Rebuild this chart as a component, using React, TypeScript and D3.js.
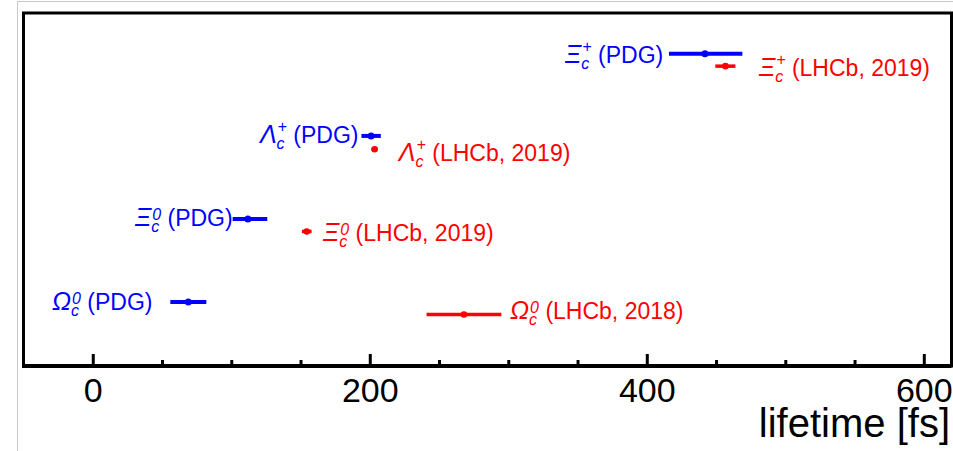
import { useEffect, useRef } from 'react';
import * as d3 from 'd3';

// charm baryon lifetimes, PDG average vs LHCb measurement
const particles = ['Ξ', 'Λ', 'Ξ', 'Ω'];
const charges = ['+', '+', '0', '0'];

const pdgValue = [442, 201, 112, 69];
const pdgLow = [416, 194, 101, 56];
const pdgHigh = [469, 208, 126, 82];
const pdgRow = [3.76, 2.77, 1.77, 0.77];
const pdgLabelX = [341, 120.7, 30.5, -29.4];
const pdgLabelY = [3.65, 2.68, 1.69, 0.67];

const lhcbValue = [456.8, 203.5, 154.5, 268];
const lhcbLow = [449.5, 201.3, 151, 241];
const lhcbHigh = [464, 205.7, 158, 295];
const lhcbRow = [3.61, 2.61, 1.62, 0.62];
const lhcbYear = ['2019', '2019', '2019', '2018'];
const lhcbLabelX = [481, 221, 166.3, 301.3];
const lhcbLabelY = [3.49, 2.47, 1.5, 0.57];

const majorTicks = [0, 200, 400, 600];
const minorTicks = [50, 100, 150, 250, 300, 350, 450, 500, 550];

const FONT = '"Liberation Sans", Arial, Helvetica, sans-serif';

export default function App() {
  const svgRef = useRef<SVGSVGElement>(null);

  useEffect(() => {
    if (!svgRef.current) return;
    const svg = d3.select(svgRef.current);
    svg.selectAll('*').remove();

    const left = 23.5;
    const right = 951.5;
    const top = 13;
    const bottom = 366;

    const x = d3.scaleLinear().domain([-50, 620]).range([left, right]);
    const y = d3.scaleLinear().domain([0, 4.25]).range([bottom, top]);

    // thin grey outer border
    svg
      .append('rect')
      .attr('x', 17.5)
      .attr('y', 1.5)
      .attr('width', 960)
      .attr('height', 460)
      .attr('fill', 'none')
      .attr('stroke', '#c8c8c8')
      .attr('stroke-width', 1);

    // major ticks + labels
    const axisMajor = svg
      .append('g')
      .attr('transform', `translate(0, ${bottom})`)
      .call(
        d3
          .axisBottom(x)
          .tickValues(majorTicks)
          .tickSize(-12)
          .tickPadding(12)
          .tickFormat((d) => `${d}`),
      );
    axisMajor.select('.domain').remove();
    axisMajor.selectAll('line').attr('stroke', '#000').attr('stroke-width', 3);
    axisMajor
      .selectAll('text')
      .attr('fill', '#000')
      .style('font-size', '34px')
      .style('font-family', FONT);

    const axisMinor = svg
      .append('g')
      .attr('transform', `translate(0, ${bottom})`)
      .call(d3.axisBottom(x).tickValues(minorTicks).tickSize(-6).tickFormat(() => ''));
    axisMinor.select('.domain').remove();
    axisMinor.selectAll('line').attr('stroke', '#000').attr('stroke-width', 3);

    // frame
    svg
      .append('rect')
      .attr('x', left)
      .attr('y', top)
      .attr('width', right - left)
      .attr('height', bottom - top)
      .attr('fill', 'none')
      .attr('stroke', '#000')
      .attr('stroke-width', 3);
    svg
      .append('line')
      .attr('x1', left - 1.5)
      .attr('x2', right)
      .attr('y1', bottom)
      .attr('y2', bottom)
      .attr('stroke', '#000')
      .attr('stroke-width', 4);

    svg
      .append('text')
      .attr('x', 950)
      .attr('y', 437)
      .attr('text-anchor', 'end')
      .style('font-size', '40px')
      .style('font-family', FONT)
      .text('lifetime [fs]');

    const drawSeries = (
      value: number[],
      low: number[],
      high: number[],
      row: number[],
      color: string,
      width: number,
      r: number,
    ) => {
      const g = svg.append('g');
      g.selectAll('line')
        .data(value)
        .enter()
        .append('line')
        .attr('x1', (_, i) => x(low[i]))
        .attr('x2', (_, i) => x(high[i]))
        .attr('y1', (_, i) => y(row[i]))
        .attr('y2', (_, i) => y(row[i]))
        .attr('stroke', color)
        .attr('stroke-width', width);
      g.selectAll('circle')
        .data(value)
        .enter()
        .append('circle')
        .attr('cx', (d) => x(d))
        .attr('cy', (_, i) => y(row[i]))
        .attr('r', r)
        .attr('fill', color);
    };

    drawSeries(pdgValue, pdgLow, pdgHigh, pdgRow, '#0000ff', 4, 3.5);
    drawSeries(lhcbValue, lhcbLow, lhcbHigh, lhcbRow, '#ff0000', 3.5, 3.3);

    const drawLabel = (i: number, lx: number, ly: number, tail: string, color: string) => {
      const sup = charges[i] === '+' ? 11 : 6;
      const t = svg
        .append('text')
        .attr('x', x(lx))
        .attr('y', y(ly))
        .attr('fill', color)
        .style('font-size', '23px')
        .style('font-family', FONT);
      t.append('tspan')
        .style('font-style', 'italic')
        .style('font-size', '25px')
        .text(particles[i]);
      t.append('tspan')
        .style('font-style', 'italic')
        .style('font-size', '16px')
        .attr('dy', 6)
        .text('c');
      t.append('tspan')
        .style('font-style', 'italic')
        .style('font-size', '16px')
        .attr('dx', -7)
        .attr('dy', -6 - sup)
        .text(charges[i]);
      t.append('tspan').attr('dy', sup).text(` ${tail}`);
    };

    particles.forEach((_, i) => {
      drawLabel(i, pdgLabelX[i], pdgLabelY[i], '(PDG)', '#0000ff');
      drawLabel(i, lhcbLabelX[i], lhcbLabelY[i], `(LHCb, ${lhcbYear[i]})`, '#ff0000');
    });
  }, []);

  return (
    <svg
      ref={svgRef}
      width={953}
      height={451}
      style={{ position: 'absolute', left: 0, top: 0, background: '#fff' }}
    />
  );
}
